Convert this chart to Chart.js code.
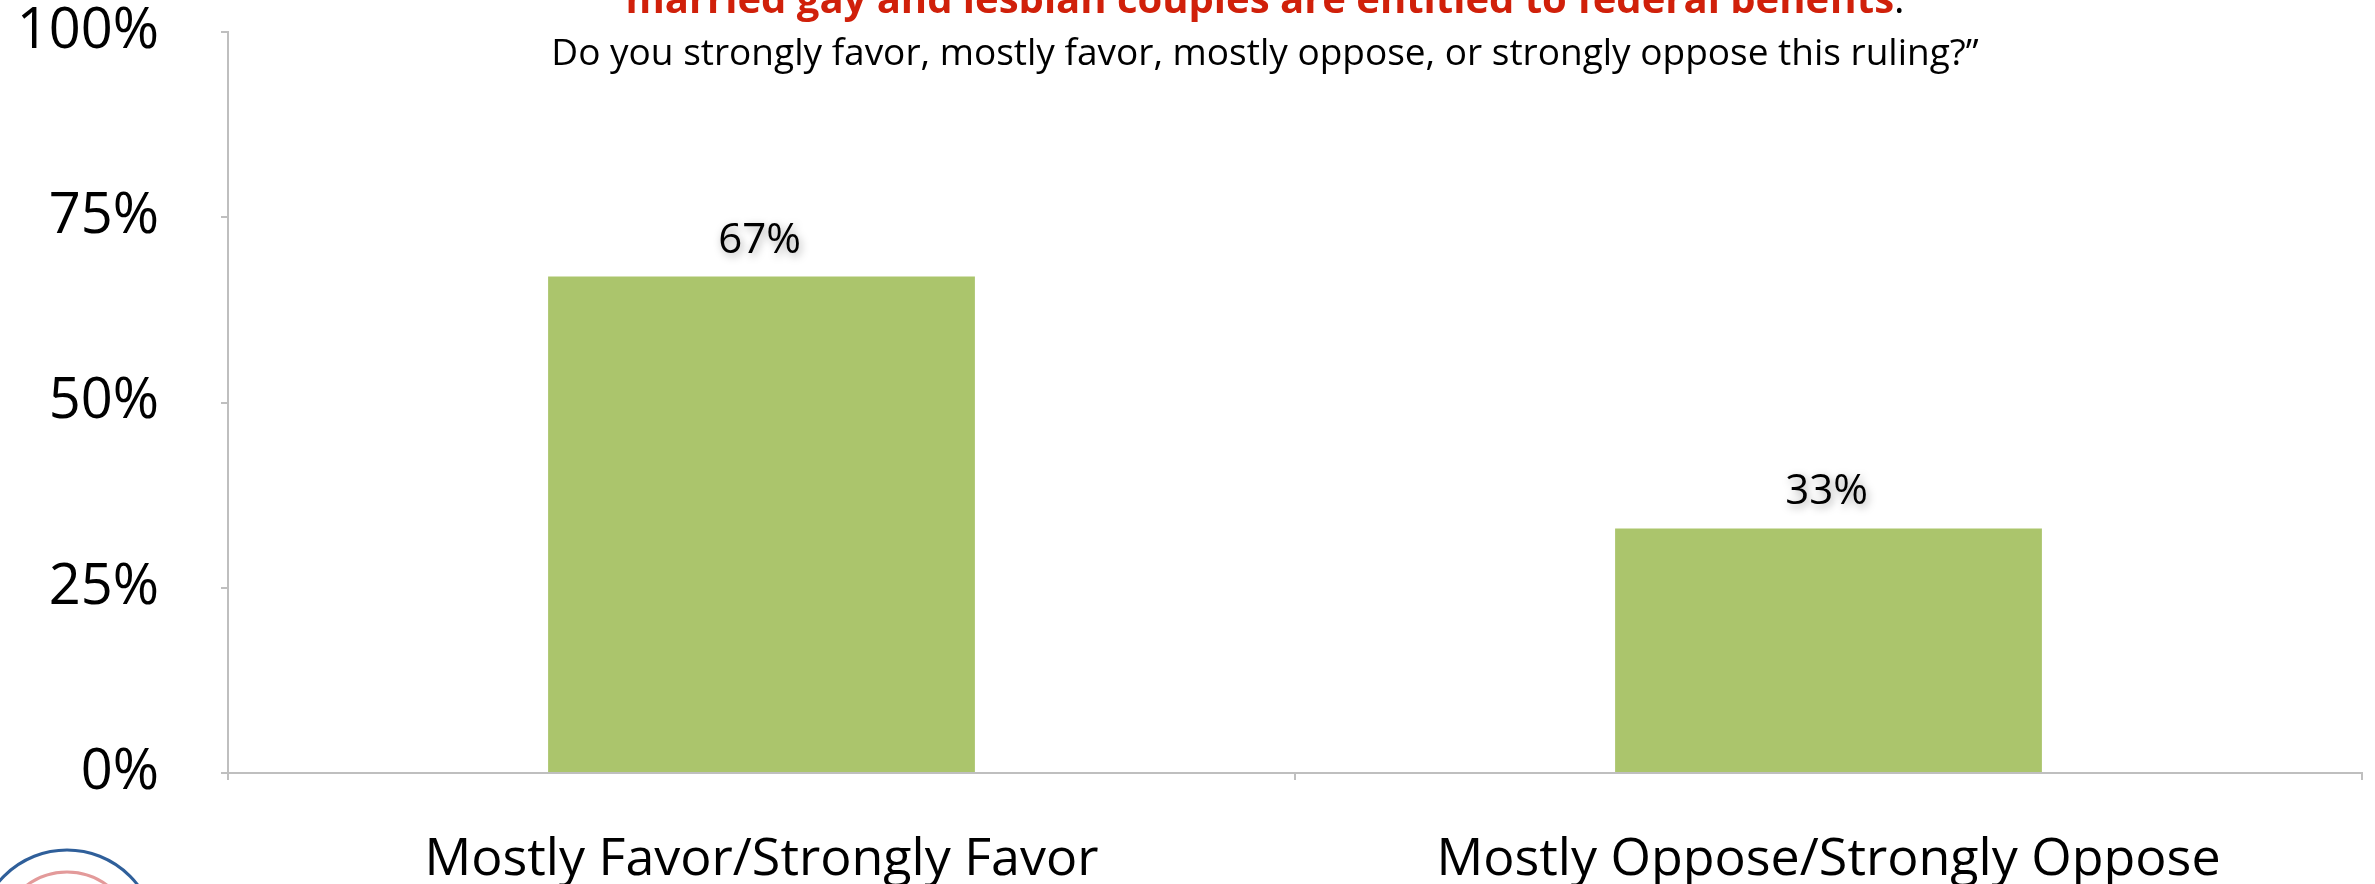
<!DOCTYPE html>
<html>
<head>
<meta charset="utf-8">
<script src="https://cdn.jsdelivr.net/npm/chart.js@4.4.0/dist/chart.umd.min.js"></script>
<style>
  html, body { margin: 0; padding: 0; background: #fff; }
  #wrap { width: 2375px; height: 884px; position: relative; overflow: hidden; }
</style>
</head>
<body>
<div id="wrap"><canvas id="chart" width="2375" height="884"></canvas></div>
<script>
const categories = ['Mostly Favor/Strongly Favor', 'Mostly Oppose/Strongly Oppose'];
const values = [67, 33];
const yTicks = [0, 25, 50, 75, 100];
const titleRed = 'married gay and lesbian couples are entitled to federal benefits';
const titleEnd = '.';
const question = 'Do you strongly favor, mostly favor, mostly oppose, or strongly oppose this ruling?\u201d';

const FONT = '"Open Sans", "Noto Sans", sans-serif';
const AXIS_GREY = '#bfbfbf';
const TITLE_CX = 1265;

// title lines (top one is cut off by the canvas edge, as in the slide)
const titlePlugin = {
  id: 'titleLines',
  afterDraw(chart) {
    const ctx = chart.ctx;
    ctx.save();
    ctx.textBaseline = 'alphabetic';
    ctx.font = 'bold 40px ' + FONT;
    const wRed = ctx.measureText(titleRed).width;
    ctx.font = '40px ' + FONT;
    const wDot = ctx.measureText(titleEnd).width;
    const x0 = TITLE_CX - (wRed + wDot) / 2;
    ctx.textAlign = 'left';
    ctx.font = 'bold 40px ' + FONT;
    ctx.fillStyle = '#d0200a';
    ctx.fillText(titleRed, x0, 13);
    ctx.font = '40px ' + FONT;
    ctx.fillStyle = '#000';
    ctx.fillText(titleEnd, x0 + wRed, 13);
    ctx.font = '37px ' + FONT;
    ctx.textAlign = 'center';
    ctx.fillText(question, TITLE_CX, 65);
    ctx.restore();
  }
};

// value labels above bars, with the soft shadow
const valueLabels = {
  id: 'valueLabels',
  afterDatasetsDraw(chart) {
    const ctx = chart.ctx;
    const meta = chart.getDatasetMeta(0);
    ctx.save();
    ctx.font = '42px ' + FONT;
    ctx.textAlign = 'center';
    ctx.textBaseline = 'alphabetic';
    ctx.fillStyle = '#000';
    ctx.shadowColor = 'rgba(0,0,0,0.35)';
    ctx.shadowBlur = 8;
    ctx.shadowOffsetX = 2;
    ctx.shadowOffsetY = 3;
    meta.data.forEach((bar, i) => {
      ctx.fillText(values[i] + '%', bar.x - 2, bar.y - 24);
    });
    ctx.restore();
  }
};

// corner of the logo peeking in at bottom left
const logoPlugin = {
  id: 'logo',
  afterDraw(chart) {
    const ctx = chart.ctx;
    ctx.save();
    ctx.lineWidth = 3;
    ctx.strokeStyle = '#2f5f9a';
    ctx.beginPath();
    ctx.arc(67, 939, 89, 0, Math.PI * 2);
    ctx.stroke();
    ctx.strokeStyle = '#e39a9a';
    ctx.beginPath();
    ctx.arc(67, 939, 67, 0, Math.PI * 2);
    ctx.stroke();
    ctx.restore();
  }
};

function draw() {
  new Chart(document.getElementById('chart'), {
    type: 'bar',
    data: {
      labels: categories,
      datasets: [{
        data: values,
        backgroundColor: '#abc56c',
        borderWidth: 0,
        barPercentage: 0.4,
        categoryPercentage: 1
      }]
    },
    options: {
      responsive: false,
      animation: false,
      devicePixelRatio: 1,
      layout: { padding: { top: 32, right: 13, left: 0, bottom: 0 } },
      plugins: {
        legend: { display: false },
        tooltip: { enabled: false },
        title: { display: false }
      },
      scales: {
        x: {
          grid: {
            display: true,
            offset: true,
            drawOnChartArea: false,
            drawTicks: true,
            tickLength: 7,
            color: AXIS_GREY,
            lineWidth: 2
          },
          border: { display: true, color: AXIS_GREY, width: 2 },
          ticks: {
            color: '#000',
            padding: 49,
            maxRotation: 0,
            font: { family: FONT, size: 52, lineHeight: 1.2 }
          },
          afterFit(scale) { scale.height = 111; }
        },
        y: {
          min: 0,
          max: 100,
          afterBuildTicks(scale) { scale.ticks = yTicks.map(v => ({ value: v })); },
          grid: {
            display: true,
            drawOnChartArea: false,
            drawTicks: true,
            tickLength: 7,
            color: AXIS_GREY,
            lineWidth: 2
          },
          border: { display: true, color: AXIS_GREY, width: 2 },
          ticks: {
            color: '#000',
            padding: 62,
            callback: v => v + '%',
            font: { family: FONT, size: 56, lineHeight: 1 }
          },
          afterFit(scale) {
            // tick padding is added to the top/bottom reserve; drop it
            scale.width = 228;
            scale.paddingTop = 0;
            scale.paddingBottom = 0;
          }
        }
      }
    },
    plugins: [valueLabels, titlePlugin, logoPlugin]
  });
}

Promise.all([
  document.fonts.load('40px "Open Sans"'),
  document.fonts.load('bold 40px "Open Sans"')
]).then(draw, draw);
</script>
</body>
</html>
